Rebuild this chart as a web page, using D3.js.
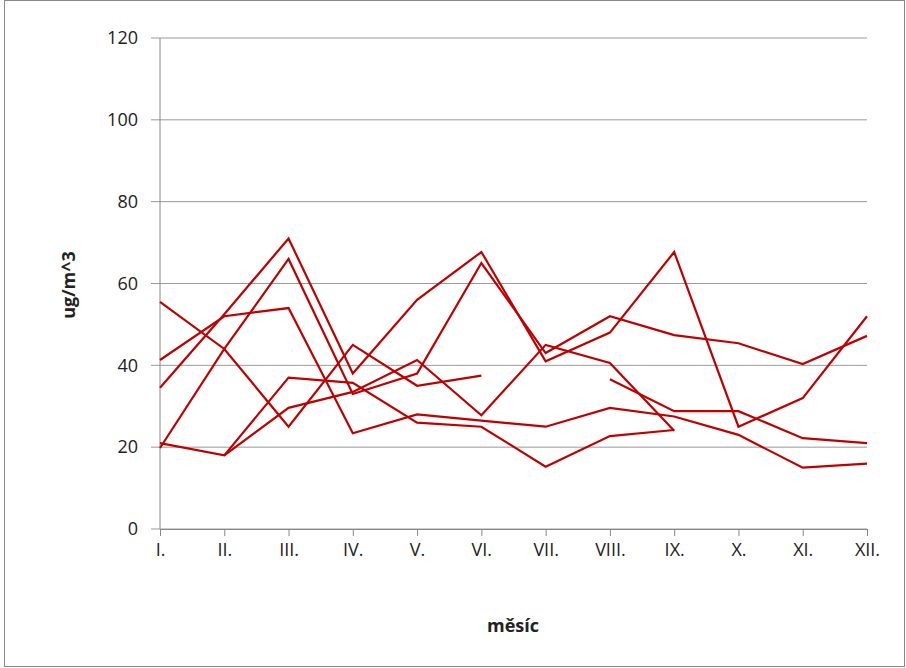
<!DOCTYPE html>
<html><head><meta charset="utf-8">
<script src="https://cdn.jsdelivr.net/npm/d3@7"></script>
<style>body{margin:0;background:#fff}svg{display:block}</style>
</head><body><svg id="c"></svg>
<script>
const months = ['I.','II.','III.','IV.','V.','VI.','VII.','VIII.','IX.','X.','XI.','XII.']
const yTicks = [0,20,40,60,80,100,120]
const s1 = [55.5,44,25,45,35,37.5,null,null,null,null,null,null]
const s2 = [41.3,52,54,23.4,28,26.5,25,29.6,27.5,23,15,16]
const s3 = [21,18,37,35.7,26,25,15.2,22.7,24.2,null,null,null]
const s4 = [34.5,52.5,71,38,56,67.7,41,48,67.7,25,32,52]
const s5 = [19.8,44,66,33,38,65,43,52,47.4,45.4,40.3,47.2]
const s6 = [null,18,29.6,33.5,41.3,27.8,45,40.6,24,null,null,null]
const s7 = [null,null,null,null,null,null,null,36.6,28.8,28.8,22.2,21]
const series = [s1,s2,s3,s4,s5,s6,s7]

const W = 906, H = 668
const svg = d3.select('#c').attr('width', W).attr('height', H)
  .style('font-family', '"Open Sans", sans-serif')
svg.append('rect').attr('x', 4.5).attr('y', 0.5).attr('width', W - 6).attr('height', H - 2)
  .attr('fill', '#fff').attr('stroke', '#888')

const x = d3.scalePoint().domain(months).range([160, 867])
const y = d3.scaleLinear().domain([0, 120]).range([529, 38])

// grid
svg.append('g').selectAll('line').data(yTicks).join('line')
  .attr('x1', 151).attr('x2', 867).attr('y1', d => y(d)).attr('y2', d => y(d))
  .attr('stroke', '#9a9a9a').attr('stroke-width', 1)
svg.append('g').selectAll('text').data(yTicks).join('text')
  .attr('x', 138).attr('y', d => y(d)).attr('dy', '0.35em').attr('text-anchor', 'end')
  .attr('font-size', 18).attr('fill', '#222').text(d => d)
svg.append('line').attr('x1', 160).attr('x2', 160).attr('y1', 38).attr('y2', 529).attr('stroke', '#888')

const xAxis = d3.axisBottom(x).tickSize(7).tickPadding(7)
const gx = svg.append('g').attr('transform', 'translate(0,529)').call(xAxis)
gx.select('.domain').attr('stroke', '#888')
gx.selectAll('line').attr('stroke', '#888')
gx.selectAll('text').attr('font-size', 18).attr('fill', '#222').attr('font-family', '"Open Sans", sans-serif')

const line = d3.line().defined(d => d != null).x((d, i) => x(months[i])).y(d => y(d))
svg.append('g').selectAll('path').data(series).join('path')
  .attr('d', line).attr('fill', 'none').attr('stroke', '#c00000').attr('stroke-width', 2.2)

svg.append('text').attr('x', 513).attr('y', 632).attr('text-anchor', 'middle')
  .attr('font-size', 18).attr('font-weight', 'bold').attr('fill', '#222').text('měsíc')
svg.append('text').attr('transform', 'translate(75,285) rotate(-90)').attr('text-anchor', 'middle')
  .attr('font-size', 18).attr('font-weight', 'bold').attr('fill', '#222').text('ug/m^3')
</script></body></html>
